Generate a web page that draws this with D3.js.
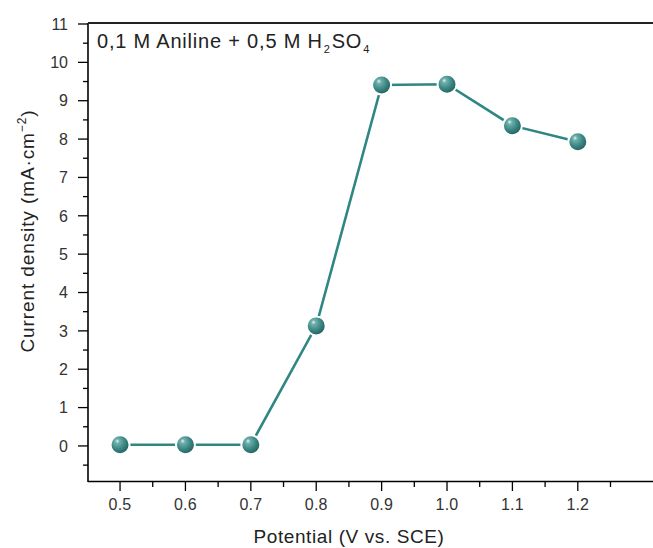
<!DOCTYPE html>
<html><head><meta charset="utf-8">
<script src="https://cdn.jsdelivr.net/npm/d3@7"></script>
<style>body{margin:0;background:#fff;} text{font-family:"Liberation Sans",Arial,sans-serif;}</style>
</head><body>
<svg id="c" width="653" height="548"></svg>
<script>
const potentials = [0.5, 0.6, 0.7, 0.8, 0.9, 1.0, 1.1, 1.2];
const currentDensity = [0.03, 0.03, 0.03, 3.13, 9.41, 9.43, 8.35, 7.93];
const xTickValues = [0.5, 0.6, 0.7, 0.8, 0.9, 1.0, 1.1, 1.2];
const yTickValues = [0, 1, 2, 3, 4, 5, 6, 7, 8, 9, 10, 11];
const legendLabel = "0,1 M Aniline + 0,5 M H";

const svg = d3.select("#c");
const x = d3.scaleLinear().domain([0.451, 1.315]).range([88, 653]);
const y = d3.scaleLinear().domain([-0.94, 11]).range([482, 24]);

const defs = svg.append("defs");
const g = defs.append("radialGradient").attr("id","ball").attr("cx","40%").attr("cy","38%").attr("r","65%").attr("fx","35%").attr("fy","30%");
g.append("stop").attr("offset","0%").attr("stop-color","#e8f4f3");
g.append("stop").attr("offset","18%").attr("stop-color","#6fb0ac");
g.append("stop").attr("offset","60%").attr("stop-color","#3a8582");
g.append("stop").attr("offset","100%").attr("stop-color","#1f5e5b");

const yMinor = d3.range(-0.5, 11, 1);
const xMinor = d3.range(0.55, 1.3, 0.1);
const ax = svg.append("g").attr("stroke","#000");
ax.append("line").attr("x1",88).attr("x2",88).attr("y1",23).attr("y2",482).attr("stroke-width",1.6);
ax.append("line").attr("x1",88).attr("x2",653).attr("y1",23).attr("y2",23).attr("stroke-width",2).attr("stroke","#222");
ax.append("line").attr("x1",88).attr("x2",653).attr("y1",481.5).attr("y2",481.5).attr("stroke-width",1.6);

ax.selectAll(".ymaj").data(yTickValues).join("line")
  .attr("x1",78).attr("x2",88).attr("y1",d=>y(d)).attr("y2",d=>y(d)).attr("stroke-width",1.3);
ax.selectAll(".ymin").data(yMinor).join("line")
  .attr("x1",83).attr("x2",88).attr("y1",d=>y(d)).attr("y2",d=>y(d)).attr("stroke-width",1.3);
ax.selectAll(".xmaj").data(xTickValues).join("line")
  .attr("x1",d=>x(d)).attr("x2",d=>x(d)).attr("y1",481).attr("y2",491).attr("stroke-width",1.3);
ax.selectAll(".xmin").data(xMinor).join("line")
  .attr("x1",d=>x(d)).attr("x2",d=>x(d)).attr("y1",481).attr("y2",487).attr("stroke-width",1.3);

svg.selectAll(".ylab").data(yTickValues).join("text")
  .attr("x",68).attr("y",d=>y(d)).attr("dy","0.36em").attr("text-anchor","end")
  .attr("font-size",16).attr("fill","#333").text(d=>d);
svg.selectAll(".xlab").data(xTickValues).join("text")
  .attr("x",d=>x(d)).attr("y",510).attr("text-anchor","middle")
  .attr("font-size",16).attr("letter-spacing",0.2).attr("fill","#333").text(d=>d.toFixed(1));

svg.append("text").attr("x",349).attr("y",543).attr("text-anchor","middle")
  .attr("font-size",19).attr("letter-spacing",0.6).attr("fill","#222").text("Potential (V vs. SCE)");
const yl = svg.append("text").attr("transform","translate(34,231) rotate(-90)").attr("text-anchor","middle")
  .attr("font-size",19).attr("letter-spacing",0.9).attr("fill","#222");
yl.append("tspan").text("Current density (mA·cm");
yl.append("tspan").attr("dy",-8).attr("font-size",12).text("−2");
yl.append("tspan").attr("dy",8).text(")");

const lg = svg.append("text").attr("x",97).attr("y",48).attr("font-size",20).attr("letter-spacing",0.8).attr("fill","#222");
lg.append("tspan").text(legendLabel);
lg.append("tspan").attr("dx",1).attr("dy",5).attr("font-size",11).text("2");
lg.append("tspan").attr("dx",1).attr("dy",-5).text("SO");
lg.append("tspan").attr("dx",1).attr("dy",5).attr("font-size",11).text("4");

const pts = potentials.map((p,i)=>[p, currentDensity[i]]);
svg.append("path").datum(pts)
  .attr("d", d3.line().x(d=>x(d[0])).y(d=>y(d[1])))
  .attr("fill","none").attr("stroke","#2f8784").attr("stroke-width",2.6);
svg.selectAll(".pt").data(pts).join("circle")
  .attr("cx",d=>x(d[0])).attr("cy",d=>y(d[1])).attr("r",9.5)
  .attr("fill","url(#ball)").attr("stroke","#fff").attr("stroke-width",2);
</script>
</body></html>
